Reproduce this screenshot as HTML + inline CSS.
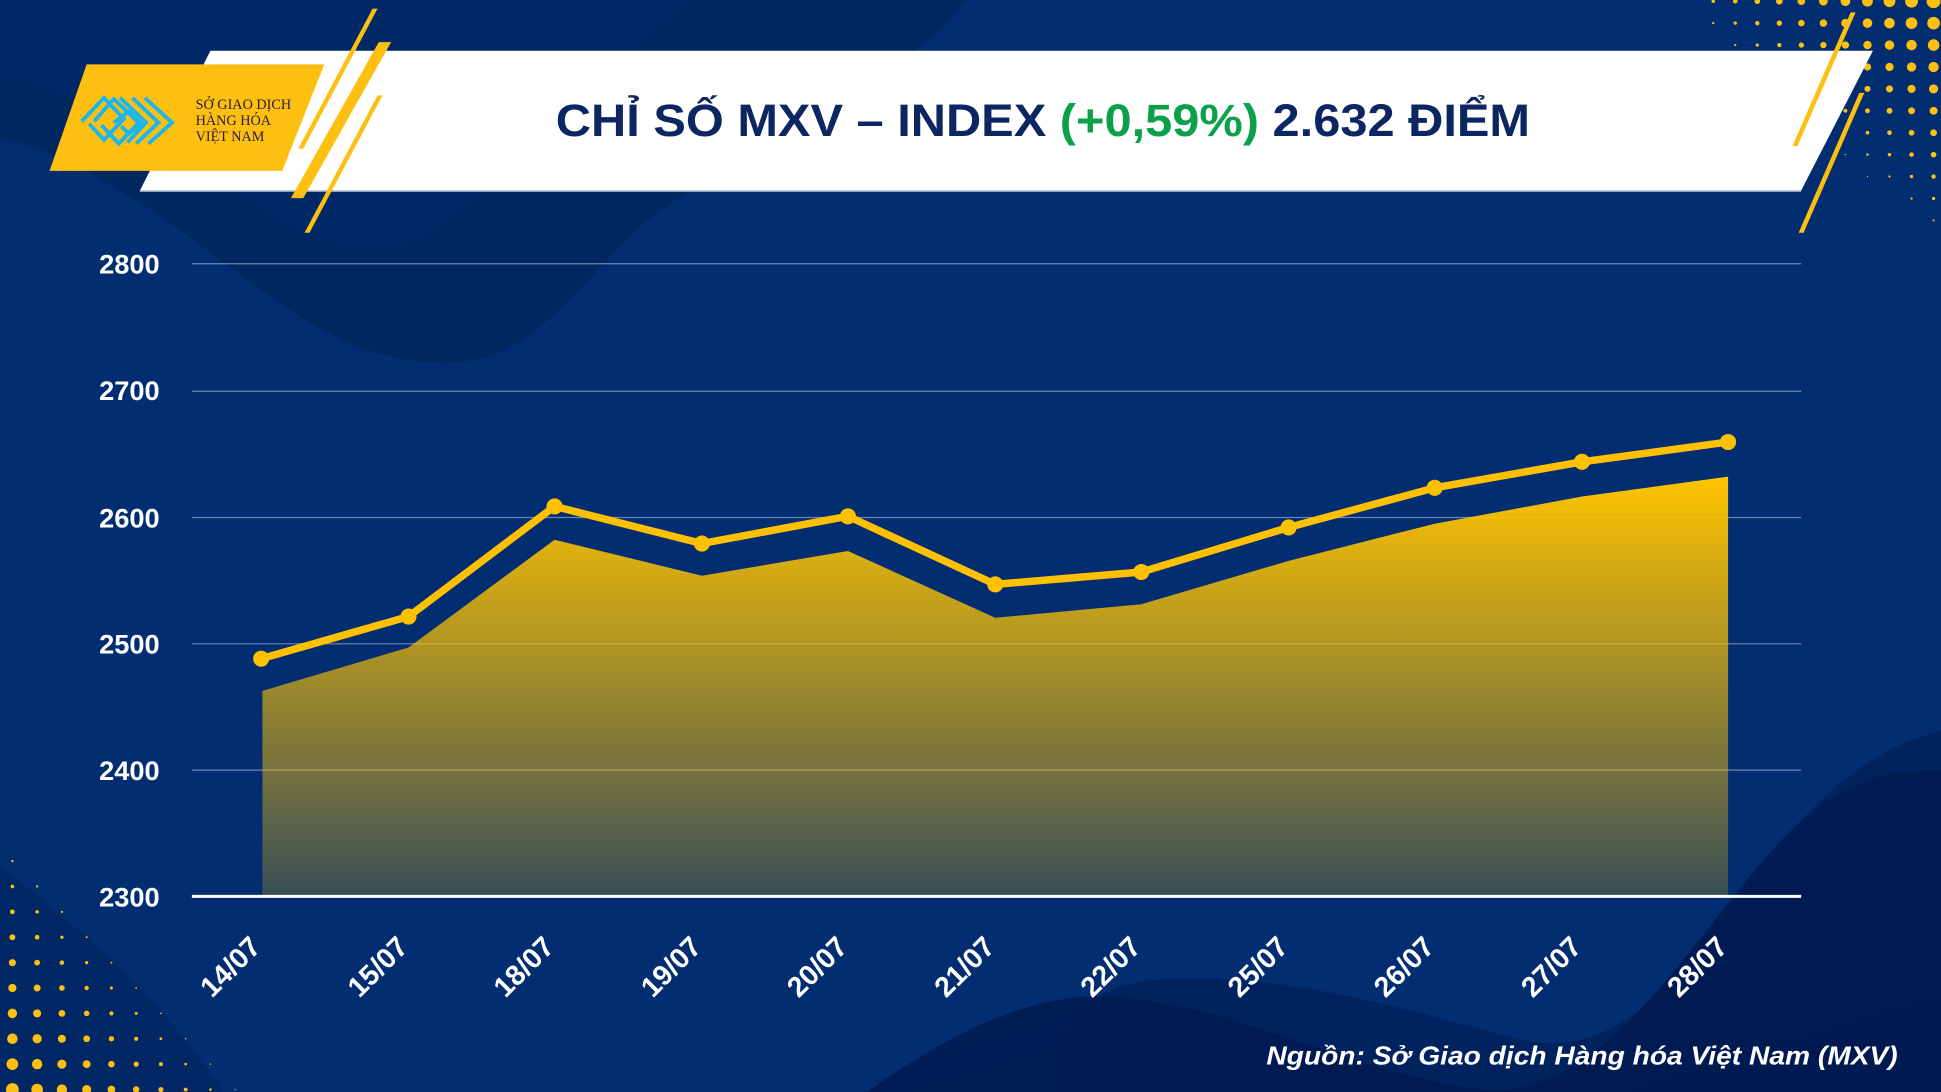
<!DOCTYPE html>
<html><head><meta charset="utf-8"><style>
html,body{margin:0;padding:0;background:#022d70;}
svg{display:block;}
</style></head><body>
<svg id="s" width="1941" height="1092" viewBox="0 0 1568 882" preserveAspectRatio="none" xmlns="http://www.w3.org/2000/svg">
<defs>
<linearGradient id="area" x1="0" y1="0" x2="0" y2="1" gradientUnits="objectBoundingBox">
<stop offset="0" stop-color="#ffc400"/>
<stop offset="1" stop-color="#ffc400" stop-opacity="0.22"/>
</linearGradient>
<linearGradient id="dk" x1="0" y1="0" x2="1" y2="1">
<stop offset="0" stop-color="#001e58"/><stop offset="1" stop-color="#00154a"/>
</linearGradient>
</defs>
<rect width="1568" height="882" fill="#022d70"/>
<path d="M0,0 L780,0 C740,60 600,120 520,180 C440,260 420,300 340,292 C250,285 180,200 90,150 C50,125 20,115 0,112 Z" fill="#012761"/>
<path d="M0,0 L0,60 C60,75 130,110 200,160 C270,210 320,210 360,180 C420,130 470,70 560,0 Z" fill="#022a68" opacity="0.7"/>
<path d="M0,860 L0,882 L180,882 C140,820 80,760 0,700 Z" fill="#01235d" opacity="0.6"/>
<path d="M700,882 C760,840 830,800 900,805 C1000,812 1100,870 1200,880 C1290,888 1360,770 1420,700 C1470,640 1510,620 1568,622 L1568,882 Z" fill="url(#dk)" opacity="0.85"/>
<path d="M860,882 C850,820 880,790 960,790 C1060,790 1150,820 1230,840 C1320,860 1380,760 1440,680 C1490,620 1530,600 1568,590 L1568,882 Z" fill="#001b52" opacity="0.55"/>
<g id="dots"></g>
<g stroke="#8ea4c8" stroke-width="1" opacity="0.75">
<line x1="155" y1="213" x2="1455" y2="213"/>
<line x1="155" y1="316" x2="1455" y2="316"/>
<line x1="155" y1="418" x2="1455" y2="418"/>
<line x1="155" y1="520" x2="1455" y2="520"/>
<line x1="155" y1="622" x2="1455" y2="622"/>
</g>
<polygon points="212,724 212,558 330,523 448,436 567,465 685,445 804,499 922,488 1041,453 1159,423 1278,401 1396,385 1396,724" fill="url(#area)"/>
<line x1="155" y1="724" x2="1455" y2="724" stroke="#ffffff" stroke-width="2.5"/>
<polyline points="211,532 330,498 448,409 567,439 685,417 804,472 922,462 1041,426 1159,394 1278,373 1396,357" fill="none" stroke="#ffc000" stroke-width="6" stroke-linejoin="round"/>
<g fill="#ffc000">
<circle cx="211" cy="532" r="6.5"/><circle cx="330" cy="498" r="6.5"/><circle cx="448" cy="409" r="6.5"/><circle cx="567" cy="439" r="6.5"/><circle cx="685" cy="417" r="6.5"/><circle cx="804" cy="472" r="6.5"/><circle cx="922" cy="462" r="6.5"/><circle cx="1041" cy="426" r="6.5"/><circle cx="1159" cy="394" r="6.5"/><circle cx="1278" cy="373" r="6.5"/><circle cx="1396" cy="357" r="6.5"/>
</g>
<g font-family="Liberation Sans, sans-serif" font-weight="bold" font-size="22" fill="#fff" text-anchor="end">
<text x="129" y="221">2800</text><text x="129" y="323">2700</text><text x="129" y="426">2600</text><text x="129" y="528">2500</text><text x="129" y="630">2400</text><text x="129" y="732">2300</text>
</g>
<g font-family="Liberation Sans, sans-serif" font-weight="bold" font-size="23" fill="#fff" text-anchor="end">
<text transform="translate(212,766) rotate(-45)">14/07</text>
<text transform="translate(331,766) rotate(-45)">15/07</text>
<text transform="translate(449,766) rotate(-45)">18/07</text>
<text transform="translate(568,766) rotate(-45)">19/07</text>
<text transform="translate(686,766) rotate(-45)">20/07</text>
<text transform="translate(805,766) rotate(-45)">21/07</text>
<text transform="translate(923,766) rotate(-45)">22/07</text>
<text transform="translate(1042,766) rotate(-45)">25/07</text>
<text transform="translate(1160,766) rotate(-45)">26/07</text>
<text transform="translate(1279,766) rotate(-45)">27/07</text>
<text transform="translate(1397,766) rotate(-45)">28/07</text>
</g>
<text x="1533" y="860" text-anchor="end" font-family="Liberation Sans, sans-serif" font-weight="bold" font-style="italic" font-size="21" fill="#fff" textLength="510" lengthAdjust="spacingAndGlyphs">Nguồn: Sở Giao dịch Hàng hóa Việt Nam (MXV)</text>
<polygon points="170,41 1513,41 1455,154 113,154" fill="#ffffff"/>
<line x1="113" y1="154.5" x2="1455" y2="154.5" stroke="#9fb0cc" stroke-width="1"/>
<polygon points="70,52 262,52 228,138 40,138" fill="#fdc010"/>
<polygon points="301,7 305,7 245,120 241,120" fill="#fdc010"/>
<polygon points="306,34 316,34 245,160 235,160" fill="#fdc010"/>
<polygon points="305,77 309,77 250,188 246,188" fill="#fdc010"/>
<polygon points="1495,10 1499,10 1452,118 1448,118" fill="#fdc010"/>
<polygon points="1502,75 1506,75 1457,188 1453,188" fill="#fdc010"/>
<g fill="none" stroke="#1db6ea" stroke-width="3.2">
<polyline points="66,98 84,79 100,96 84,113 72,100"/>
<polyline points="76,98 92,80 112,99 96,116 82,101"/>
<polyline points="97,79 118,99 103,115"/>
<polyline points="107,79 128,99 110,116"/>
<polyline points="117,79 139,99 120,116"/>
<polyline points="92,99 104,90 114,100 104,108 98,102"/>
</g>
<g font-family="Liberation Serif, serif" font-size="11.5" fill="#2b1a3a">
<text x="158" y="88">SỞ GIAO DỊCH</text>
<text x="158" y="101">HÀNG HÓA</text>
<text x="158" y="114">VIỆT NAM</text>
</g>
<text x="449" y="110" font-family="Liberation Sans, sans-serif" font-weight="bold" font-size="37" fill="#0b2660" textLength="787" lengthAdjust="spacingAndGlyphs">CHỈ SỐ MXV – INDEX <tspan fill="#0aa14a">(+0,59%)</tspan> 2.632 ĐIỂM</text>
</svg>
<script>
(function(){
var g=document.getElementById('dots'),h='';
for(var r=0;r<11;r++){for(var c=0;c<13;c++){
 var x=1562-c*17.8, y=1+r*17.7;
 var d=Math.max(0,1-(c*0.075+r*0.085));
 var rad=d*5.6; if(rad<0.5)continue;
 if(x<1380)continue;
 h+='<circle cx="'+x.toFixed(1)+'" cy="'+y.toFixed(1)+'" r="'+rad.toFixed(2)+'" fill="#fdc010"/>';
}}
for(var r=0;r<10;r++){for(var c=0;c<10;c++){
 var x=10+c*20, y=880-r*20.5;
 var d=Math.max(0,1-(c*0.1+r*0.09));
 var rad=d*5.2; if(rad<0.5)continue;
 h+='<circle cx="'+x.toFixed(1)+'" cy="'+y.toFixed(1)+'" r="'+rad.toFixed(2)+'" fill="#fdc010"/>';
}}
g.innerHTML=h;
})();
</script>
</body></html>
